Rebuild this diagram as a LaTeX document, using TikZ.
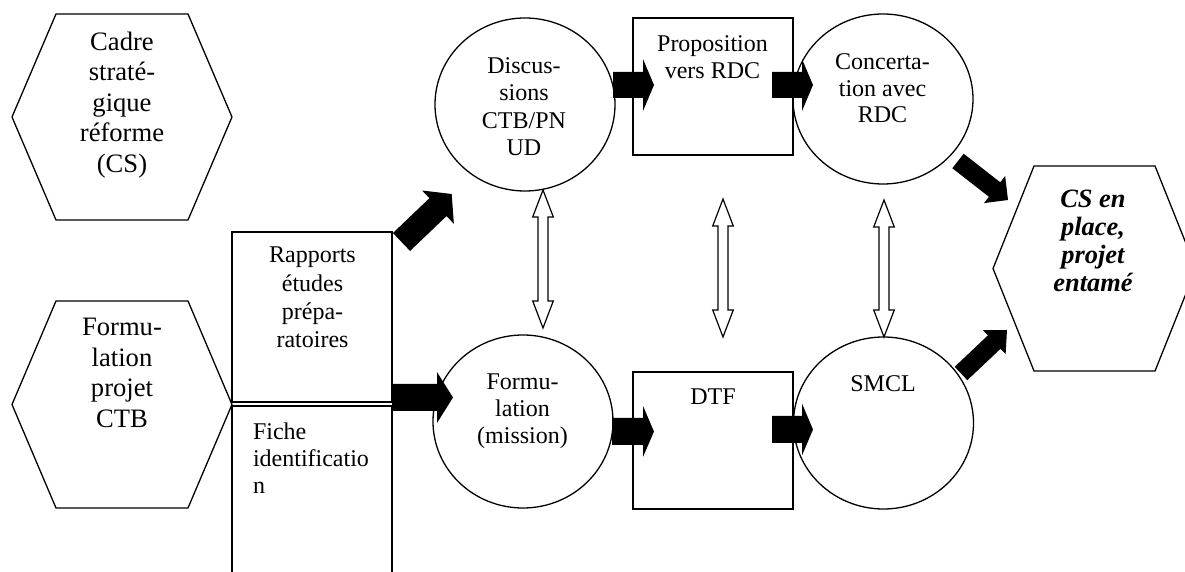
\documentclass[tikz,border=0pt]{standalone}
\usepackage{fontspec}
\setmainfont{Liberation Serif}
\usetikzlibrary{calc,shapes.geometric}

\newcommand\blockarr[5]{% start, tip, shaft half width, head half width, head length
  \path ($(#2)!#5!(#1)$) coordinate (hb);
  \fill[black] ($(#1)!#3!90:(#2)$) -- ($(hb)!#3!90:(#2)$) -- ($(hb)!#4!90:(#2)$) -- (#2)
    -- ($(hb)!#4!-90:(#2)$) -- ($(hb)!#3!-90:(#2)$) -- ($(#1)!#3!-90:(#2)$) -- cycle;
}
\newcommand\dblarr[5]{% top tip, bottom tip, shaft half, head half, head length
  \path ($(#1)!#5!(#2)$) coordinate (hbT) ($(#2)!#5!(#1)$) coordinate (hbB);
  \filldraw[fill=white, draw=black, line width=0.6pt, line join=miter]
    (#1) -- ($(hbT)!#4!90:(#1)$) -- ($(hbT)!#3!90:(#1)$) -- ($(hbB)!#3!90:(#1)$)
    -- ($(hbB)!#4!90:(#1)$) -- (#2) -- ($(hbB)!#4!-90:(#1)$) -- ($(hbB)!#3!-90:(#1)$)
    -- ($(hbT)!#3!-90:(#1)$) -- ($(hbT)!#4!-90:(#1)$) -- cycle;
}

\tikzset{
  outl/.style={draw=black, line width=0.65pt},
  hexbox/.style={inner sep=0pt, outer sep=0pt},
  ovalbox/.style={ellipse, outl, inner sep=0pt, outer sep=0pt, minimum width=90pt},
  rectbox/.style={rectangle, outl, inner sep=0pt, outer sep=0pt, minimum width=80pt},
  txt/.style={inner sep=0pt, outer sep=0pt, anchor=north, align=center, font=\fontsize{12}{13.7}\selectfont},
  hextxt/.style={inner sep=0pt, outer sep=0pt, anchor=north, align=center, font=\fontsize{13.3}{15.25}\selectfont},
}

\begin{document}
\begin{tikzpicture}[x=0.5pt, y=-0.5pt]
\fill[white] (0,0) rectangle (1185,572);
\clip (0,0) rectangle (1185,572);

% hexagons
\node[hexbox, minimum width=110pt, minimum height=103pt] (cadre) at (122,117) {};
\draw[outl] (cadre.west) -- ([xshift=22pt]cadre.north west) -- ([xshift=-22pt]cadre.north east)
  -- (cadre.east) -- ([xshift=-22pt]cadre.south east) -- ([xshift=22pt]cadre.south west) -- cycle;
\node[hexbox, minimum width=110pt, minimum height=103.5pt] (fproj) at (122,404.5) {};
\draw[outl] (fproj.west) -- ([xshift=22pt]fproj.north west) -- ([xshift=-22pt]fproj.north east)
  -- (fproj.east) -- ([xshift=-22pt]fproj.south east) -- ([xshift=22pt]fproj.south west) -- cycle;
\node[hexbox, minimum width=101.5pt, minimum height=102.5pt] (cs) at (1094.5,268.5) {};
\draw[outl] (cs.west) -- ([xshift=20.5pt]cs.north west) -- ([xshift=-20.5pt]cs.north east)
  -- (cs.east) -- ([xshift=-20.5pt]cs.south east) -- ([xshift=20.5pt]cs.south west) -- cycle;

% rectangles
\node[rectbox, minimum height=85pt] (rap) at (312,317) {};
\node[rectbox, minimum height=87pt] (fiche) at (312,493) {};
\node[rectbox, minimum height=68.5pt] (prop) at (713,86.5) {};
\node[rectbox, minimum height=68.5pt] (dtf) at (713,440.5) {};

% ellipses
\node[ovalbox, minimum height=86.5pt] (disc) at (525,104.5) {};
\node[ovalbox, minimum height=85pt] (conc) at (883,99) {};
\node[ovalbox, minimum height=86.5pt] (form) at (523,421.5) {};
\node[ovalbox, minimum height=86pt] (smcl) at (883.5,423) {};

% texts
\node[hextxt] (tcadre) at (122,31.8) {Cadre\\strat\'e-\\gique\\r\'eforme\\(CS)};
\node[hextxt] (tfproj) at (122,318.4) {Formu-\\lation\\projet\\CTB};
\node[hextxt, font=\fontsize{13.2}{13.95}\selectfont\bfseries\itshape] (tcs) at (1093,190) {CS en\\place,\\projet\\entam\'e};
\node[txt, font=\fontsize{12}{14.1}\selectfont] (trap) at (312.5,247.1) {Rapports\\\'etudes\\pr\'epa-\\ratoires};
\node[txt, anchor=north west, align=left, font=\fontsize{12}{13.5}\selectfont] (tfiche) at (253,422.6) {Fiche\\identificatio\\n};
\node[txt, font=\fontsize{12}{13.65}\selectfont] (tdisc) at (524,57.6) {Discus-\\sions\\CTB/PN\\UD};
\node[txt, font=\fontsize{12}{13.65}\selectfont] (tprop) at (712.5,35.3) {Proposition\\vers RDC};
\node[txt, font=\fontsize{12}{13.35}\selectfont] (tconc) at (882.5,53.6) {Concerta-\\tion avec\\RDC};
\node[txt, font=\fontsize{12}{13.35}\selectfont] (tform) at (522.5,374.1) {Formu-\\lation\\(mission)};
\node[txt] (tdtf) at (713,389.1) {DTF};
\node[txt] (tsmcl) at (883,375.8) {SMCL};

% black block arrows
\coordinate (a1s) at (401.5,242); \coordinate (a1e) at (451.7,194);
\coordinate (a2s) at (392,397.5); \coordinate (a2e) at (453,397.5);
\coordinate (a3s) at (613,85);    \coordinate (a3e) at (654,85);
\coordinate (a4s) at (772,85);    \coordinate (a4e) at (813,85);
\coordinate (a5s) at (612,431.5); \coordinate (a5e) at (654,431.5);
\coordinate (a6s) at (772,429.5); \coordinate (a6e) at (813,429.5);
\coordinate (a7s) at (958,161);   \coordinate (a7e) at (1008,200);
\coordinate (a8s) at (961,373.5); \coordinate (a8e) at (1007,330);
\blockarr{a1s}{a1e}{6.2pt}{11.5pt}{9.5pt}
\blockarr{a2s}{a2e}{6.75pt}{12.75pt}{8pt}
\blockarr{a3s}{a3e}{6.5pt}{13pt}{5.5pt}
\blockarr{a4s}{a4e}{6.5pt}{13pt}{5.5pt}
\blockarr{a5s}{a5e}{6.75pt}{12.75pt}{5.5pt}
\blockarr{a6s}{a6e}{6.75pt}{13pt}{5.5pt}
\blockarr{a7s}{a7e}{4.6pt}{8.6pt}{8.5pt}
\blockarr{a8s}{a8e}{4.6pt}{8.3pt}{8.8pt}

% hollow double arrows
\coordinate (d1t) at (543,190); \coordinate (d1b) at (543,328);
\coordinate (d2t) at (723,199); \coordinate (d2b) at (723,337);
\coordinate (d3t) at (884,200); \coordinate (d3b) at (884,337);
\dblarr{d1t}{d1b}{2.5pt}{5.15pt}{13.5pt}
\dblarr{d2t}{d2b}{2.5pt}{5.15pt}{13.5pt}
\dblarr{d3t}{d3b}{2.5pt}{5.15pt}{13.5pt}
\end{tikzpicture}
\end{document}
